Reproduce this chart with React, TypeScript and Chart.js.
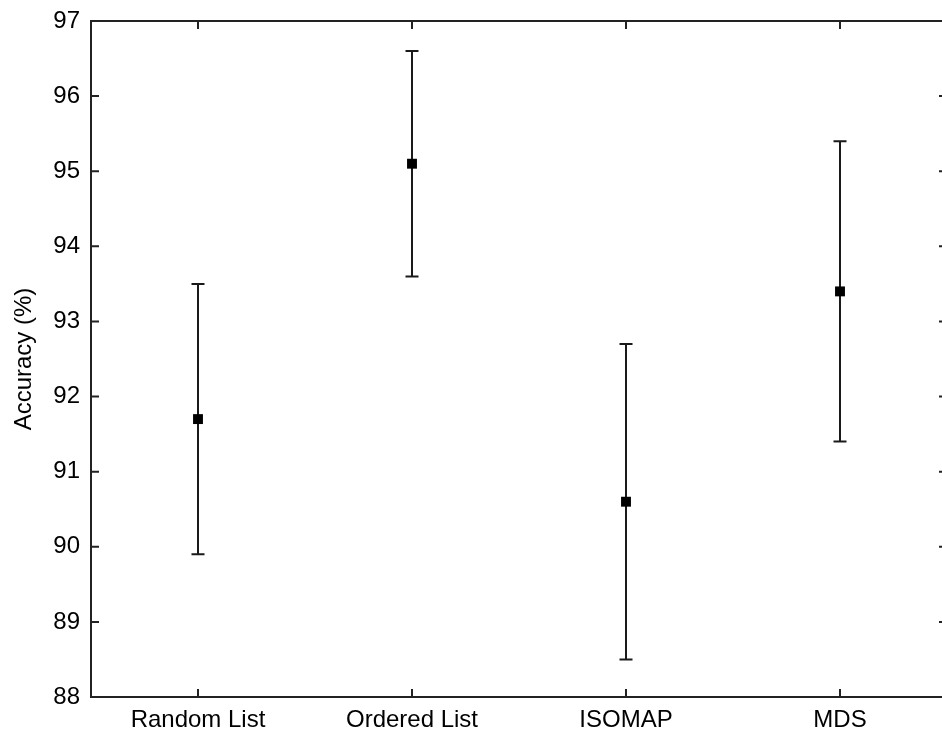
import React, { useEffect, useRef } from "react";
import { Chart, registerables } from "chart.js";

Chart.register(...registerables);

const categories = ["Random List", "Ordered List", "ISOMAP", "MDS"];
const means = [91.7, 95.1, 90.6, 93.4];
const lowerBounds = [89.9, 93.6, 88.5, 91.4];
const upperBounds = [93.5, 96.6, 92.7, 95.4];
const yTicks = [88, 89, 90, 91, 92, 93, 94, 95, 96, 97];

const FONT = "Arial, 'Liberation Sans', Helvetica, sans-serif";

const errorBarPlugin = {
  id: "errorBars",
  beforeDatasetsDraw(chart: any) {
    const { ctx, scales } = chart;
    const xs = scales.x;
    const ys = scales.y;
    ctx.save();
    ctx.strokeStyle = "#1a1a1a";
    ctx.lineWidth = 2;
    categories.forEach((_, i) => {
      const x = xs.getPixelForValue(i + 1);
      const yl = ys.getPixelForValue(lowerBounds[i]);
      const yu = ys.getPixelForValue(upperBounds[i]);
      ctx.beginPath();
      ctx.moveTo(x, yl);
      ctx.lineTo(x, yu);
      ctx.moveTo(x - 6.5, yl);
      ctx.lineTo(x + 6.5, yl);
      ctx.moveTo(x - 6.5, yu);
      ctx.lineTo(x + 6.5, yu);
      ctx.stroke();
    });
    ctx.restore();
  },
};

const boxPlugin = {
  id: "matlabBox",
  afterDraw(chart: any) {
    const { ctx, chartArea, scales } = chart;
    const { left, right, top, bottom } = chartArea;
    const tl = 8;
    ctx.save();
    ctx.strokeStyle = "#222";
    ctx.lineWidth = 2;
    ctx.strokeRect(left, top, right - left, bottom - top);
    ctx.beginPath();
    yTicks.forEach((v) => {
      const y = scales.y.getPixelForValue(v);
      ctx.moveTo(left, y);
      ctx.lineTo(left + tl, y);
      ctx.moveTo(right, y);
      ctx.lineTo(right - tl, y);
    });
    categories.forEach((_, i) => {
      const x = scales.x.getPixelForValue(i + 1);
      ctx.moveTo(x, bottom);
      ctx.lineTo(x, bottom - tl);
      ctx.moveTo(x, top);
      ctx.lineTo(x, top + tl);
    });
    ctx.stroke();
    ctx.restore();
  },
};

export default function App() {
  const ref = useRef<HTMLCanvasElement | null>(null);
  useEffect(() => {
    if (!ref.current) return;
    const chart = new Chart(ref.current, {
      type: "scatter",
      data: {
        datasets: [
          {
            data: categories.map((_, i) => ({ x: i + 1, y: means[i] })),
            pointStyle: "rect",
            pointRadius: 7,
            pointHoverRadius: 7,
            backgroundColor: "#000",
            borderColor: "#000",
            borderWidth: 0,
            showLine: false,
          },
        ],
      },
      options: {
        responsive: false,
        animation: false,
        events: [],
        layout: { padding: { top: 21, right: 13, left: 0, bottom: 0 } },
        plugins: { legend: { display: false }, tooltip: { enabled: false } },
        scales: {
          x: {
            type: "linear",
            min: 0.5,
            max: 4.5,
            grid: { display: false, drawTicks: false },
            border: { display: false },
            afterBuildTicks: (scale: any) => {
              scale.ticks = categories.map((_, i) => ({ value: i + 1 }));
            },
            afterFit: (scale: any) => {
              scale.height = 40;
              scale.paddingLeft = 0;
              scale.paddingRight = 0;
            },
            ticks: {
              autoSkip: false,
              maxRotation: 0,
              padding: 9,
              color: "#000",
              font: { family: FONT, size: 24 },
              callback: (v: any) => categories[Number(v) - 1] ?? "",
            },
          },
          y: {
            min: 88,
            max: 97,
            grid: { display: false, drawTicks: false },
            border: { display: false },
            afterBuildTicks: (scale: any) => {
              scale.ticks = yTicks.map((v) => ({ value: v }));
            },
            afterFit: (scale: any) => {
              scale.width = 91;
              scale.paddingTop = 0;
              scale.paddingBottom = 0;
            },
            ticks: {
              padding: 11,
              color: "#000",
              font: { family: FONT, size: 24 },
              callback: (v: any) => String(v),
            },
            title: {
              display: true,
              text: "Accuracy (%)",
              color: "#000",
              font: { family: FONT, size: 24 },
              padding: { top: 10, bottom: 0 },
            },
          },
        },
      },
      plugins: [errorBarPlugin, boxPlugin],
    });
    return () => chart.destroy();
  }, []);

  return (
    <div
      style={{
        position: "fixed",
        left: 0,
        top: 0,
        width: 942,
        height: 737,
        overflow: "hidden",
        background: "#fff",
      }}
    >
      <canvas ref={ref} width={960} height={737} style={{ display: "block" }} />
    </div>
  );
}
